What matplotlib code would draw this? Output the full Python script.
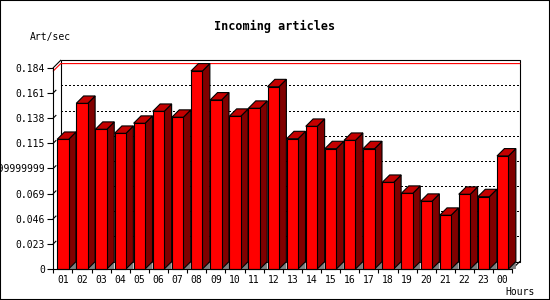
import numpy as np
import matplotlib
matplotlib.use("Agg")
import matplotlib.pyplot as plt
from matplotlib.patches import Polygon, Rectangle

# data: incoming articles per hour (Art/sec)
hours = ['01', '02', '03', '04', '05', '06', '07', '08', '09', '10', '11', '12',
         '13', '14', '15', '16', '17', '18', '19', '20', '21', '22', '23', '00']
values = [0.1185, 0.1514, 0.1277, 0.1240, 0.1332, 0.1441, 0.1387, 0.1810,
          0.1545, 0.1396, 0.1469, 0.1666, 0.1191, 0.1304, 0.1100, 0.1176,
          0.1100, 0.0792, 0.0692, 0.0619, 0.0491, 0.0683, 0.0661, 0.1033]
y_ticks = [0, 0.023, 0.046, 0.069, 0.092, 0.115, 0.138, 0.161, 0.184]
y_tick_labels = ['0', '0.023', '0.046', '0.069', '0.09199999999999999',
                 '0.115', '0.138', '0.161', '0.184']

mono = 'DejaVu Sans Mono'
W, H = 550, 300

fig = plt.figure(figsize=(5.5, 3.0), dpi=100)
fig.patch.set_facecolor('white')
ax = fig.add_axes([53.3 / W, 31 / H, 459 / W, 201.3 / H])
n = len(values)
ymax = y_ticks[-1]
ax.set_xlim(0, n)
ax.set_ylim(0, ymax)
ax.patch.set_alpha(0)

# 3d depth, about 7.4 px each way
dx = 7.4 / (459 / n)
dy = 7.4 / 201.3 * ymax

# back wall + grid
ax.add_patch(Rectangle((dx, dy), n, ymax, fill=False, ec='black', lw=0.8,
                       clip_on=False, zorder=1))
ax.plot([0, dx], [ymax, ymax + dy], color='black', lw=0.8, clip_on=False, zorder=1)
ax.plot([n, n + dx], [0, dy], color='black', lw=0.8, clip_on=False, zorder=1)
for t in y_ticks[1:-1]:
    ax.plot([dx, n + dx], [t + dy, t + dy], color='black', lw=0.75,
            linestyle=(0, (1.3, 2.0)), antialiased=False, clip_on=False, zorder=1)
    ax.plot([0, dx * 0.35], [t, t + dy * 0.35], color='black', lw=0.8,
            clip_on=False, zorder=1)

# red line at the max value
vmax = max(values)
ax.plot([0, dx, n + dx], [vmax, vmax + dy, vmax + dy], color='red', lw=0.8,
        clip_on=False, zorder=1.5)

# bars
for i, v in enumerate(values):
    x1 = i + 0.2
    x2 = i + 0.8
    z = 3 + i * 0.01
    ax.add_patch(Polygon([(x2, 0), (x2 + dx, dy), (x2 + dx, 0)], closed=True,
                         fc='#808080', ec='none', clip_on=False, zorder=z))
    ax.add_patch(Polygon([(x2, 0), (x2 + dx, dy), (x2 + dx, v + dy), (x2, v)],
                         closed=True, fc='#800000', ec='black', lw=0.8,
                         clip_on=False, zorder=z))
    ax.add_patch(Polygon([(x1, v), (x2, v), (x2 + dx, v + dy), (x1 + dx, v + dy)],
                         closed=True, fc='#c40000', ec='black', lw=0.8,
                         clip_on=False, zorder=z))
    ax.add_patch(Rectangle((x1, 0), 0.6, v, fc='#ff0000', ec='black', lw=0.8,
                           clip_on=False, zorder=z))

# axes
for s in ['top', 'right']:
    ax.spines[s].set_visible(False)
for s in ['left', 'bottom']:
    ax.spines[s].set_linewidth(0.8)
    ax.spines[s].set_zorder(5)
ax.set_yticks(y_ticks)
ax.set_yticklabels(y_tick_labels, fontfamily=mono, fontsize=7)
ax.tick_params(axis='y', direction='out', length=4, width=0.8, pad=2)
ax.set_xticks(range(n + 1))
ax.set_xticklabels([])
ax.set_xticks(np.arange(n) + 0.5, minor=True)
ax.set_xticklabels(hours, minor=True, fontfamily=mono, fontsize=7)
ax.tick_params(axis='x', which='major', direction='out', length=3, width=0.8)
ax.tick_params(axis='x', which='minor', length=0, pad=4)

# texts
fig.text(275 / W, 1 - 26.7 / H, 'Incoming articles', ha='center', va='center',
         fontfamily=mono, fontweight='bold', fontsize=8.5)
fig.text(30 / W, 1 - 36.7 / H, 'Art/sec', ha='left', va='center',
         fontfamily=mono, fontsize=7)
fig.text(505 / W, 1 - 292 / H, 'Hours', ha='left', va='center',
         fontfamily=mono, fontsize=7)

fig.add_artist(Rectangle((0, 0), 1, 1, transform=fig.transFigure, fill=False,
                         ec='black', lw=1.5))

fig.savefig('out.png', dpi=100)
